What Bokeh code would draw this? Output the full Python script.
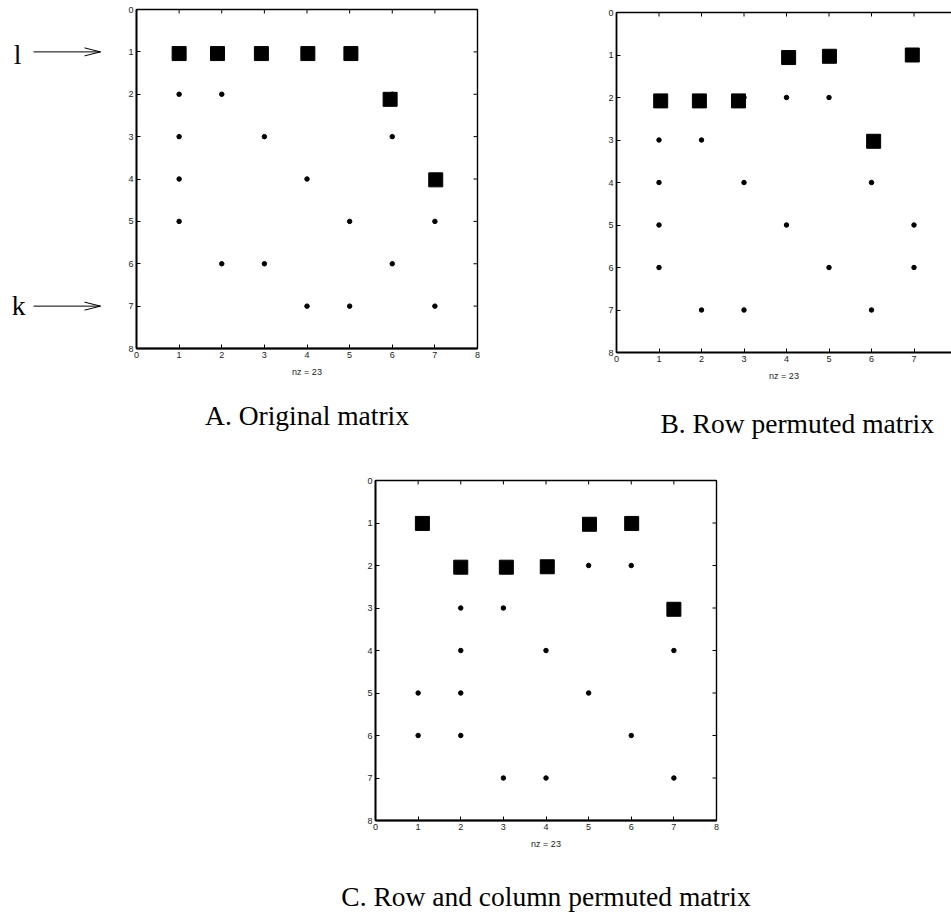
from bokeh.plotting import figure
from bokeh.models import Range1d, LinearAxis, FixedTicker
from bokeh.core.properties import value
from bokeh.layouts import column, row
from bokeh.embed import file_html
from bokeh.resources import INLINE

# ---------------- data ----------------
tick_vals = [0, 1, 2, 3, 4, 5, 6, 7, 8]
tick_text = ["0", "1", "2", "3", "4", "5", "6", "7", "8"]

# A. original matrix: nonzero entries (row, column)
a_rows = [1, 1, 1, 1, 1, 2, 2, 2, 3, 3, 3, 4, 4, 4, 5, 5, 5, 6, 6, 6, 7, 7, 7]
a_cols = [1, 2, 3, 4, 5, 1, 2, 6, 1, 3, 6, 1, 4, 7, 1, 5, 7, 2, 3, 6, 4, 5, 7]
# highlighted entries (big squares)
a_sq_x = [1.0, 1.9, 2.93, 4.02, 5.03, 5.95, 7.02]
a_sq_y = [1.04, 1.04, 1.04, 1.04, 1.04, 2.12, 4.02]

# B. row permuted matrix
b_rows = [1, 1, 1, 2, 2, 2, 2, 2, 3, 3, 3, 4, 4, 4, 5, 5, 5, 6, 6, 6, 7, 7, 7]
b_cols = [4, 5, 7, 1, 2, 3, 4, 5, 1, 2, 6, 1, 3, 6, 1, 4, 7, 1, 5, 7, 2, 3, 6]
b_sq_x = [4.05, 5.01, 6.96, 1.04, 1.95, 2.87, 6.05]
b_sq_y = [1.06, 1.03, 1.0, 2.08, 2.08, 2.08, 3.03]

# C. row and column permuted matrix
c_rows = [1, 1, 1, 2, 2, 2, 2, 2, 3, 3, 3, 4, 4, 4, 5, 5, 5, 6, 6, 6, 7, 7, 7]
c_cols = [1, 5, 6, 2, 3, 4, 5, 6, 2, 3, 7, 2, 4, 7, 1, 2, 5, 1, 2, 6, 3, 4, 7]
c_sq_x = [1.1, 5.02, 6.01, 2.0, 3.07, 4.03, 7.0]
c_sq_y = [1.01, 1.03, 1.01, 2.04, 2.04, 2.03, 3.03]

captions = ["A. Original matrix", "B. Row permuted matrix", "C. Row and column permuted matrix"]
row_marks = ["l", "k"]
row_mark_rows = [1, 7]

SANS = "Liberation Sans"
SERIF = "Liberation Serif"
CAP_SIZE = 27.5
overrides = {v: t for v, t in zip(tick_vals, tick_text)}
TICK_PX = 4


def label_axis(label_text=None):
    ax = LinearAxis(
        ticker=FixedTicker(ticks=tick_vals),
        major_tick_in=TICK_PX, major_tick_out=0,
        minor_tick_in=0, minor_tick_out=0,
        major_tick_line_color="black", major_tick_line_width=1,
        axis_line_color="black", axis_line_width=1.8,
        major_label_overrides=overrides,
        major_label_text_font=SANS,
        major_label_text_font_size="9px",
        major_label_text_color="#222222",
        major_label_standoff=3,
    )
    if label_text is not None:
        ax.axis_label = label_text
        ax.axis_label_text_font = SANS
        ax.axis_label_text_font_size = "9px"
        ax.axis_label_text_font_style = "normal"
        ax.axis_label_text_color = "#222222"
        ax.axis_label_standoff = 6
    return ax


def line_axis():
    return LinearAxis(ticker=FixedTicker(ticks=[]), axis_line_color="black",
                      axis_line_width=1.4, major_tick_in=0, major_tick_out=0,
                      minor_tick_in=0, minor_tick_out=0,
                      major_label_standoff=0, axis_label_standoff=0)


def panel(mbl, mbr, mbt, mbb, frame_w, frame_h, xend, rows, cols, sqx, sqy, right=True):
    p = figure(width=mbl + frame_w + mbr, height=mbt + frame_h + mbb,
               x_range=Range1d(0, xend), y_range=Range1d(8, 0),
               output_backend="svg", toolbar_location=None,
               x_axis_location=None, y_axis_location=None,
               min_border_left=mbl, min_border_right=mbr,
               min_border_top=mbt, min_border_bottom=mbb,
               background_fill_color="white", border_fill_color="white")
    p.grid.visible = False
    if right:
        p.outline_line_color = "black"
        p.outline_line_width = 1.4
    else:
        p.outline_line_color = None
        p.add_layout(line_axis(), "above")
    p.add_layout(label_axis(), "left")
    p.add_layout(label_axis(f"nz = {len(rows)}"), "below")
    # inward tick marks on top (and right) edges
    ux = frame_w / xend
    uy = frame_h / 8
    top_t = [t for t in tick_vals if t <= xend]
    p.segment(x0=top_t, y0=[0] * len(top_t), x1=top_t, y1=[TICK_PX / uy] * len(top_t),
              line_color="black", line_width=1)
    if right:
        p.segment(x0=[8] * len(tick_vals), y0=tick_vals,
                  x1=[8 - TICK_PX / ux] * len(tick_vals), y1=tick_vals,
                  line_color="black", line_width=1)
    p.scatter(x=cols, y=rows, size=4.5, marker="circle", color="black")
    p.scatter(x=sqx, y=sqy, size=14, marker="square", color="black")
    return p


def caption_strip(width, y_top, y_bottom, xs, mids, texts, aligns):
    s = figure(width=width, height=y_bottom - y_top,
               x_range=Range1d(0, width), y_range=Range1d(y_bottom, y_top),
               output_backend="svg", toolbar_location=None,
               x_axis_location=None, y_axis_location=None,
               min_border_left=0, min_border_right=0, min_border_top=0, min_border_bottom=0,
               outline_line_color=None)
    s.grid.visible = False
    for x, y, t, a in zip(xs, mids, texts, aligns):
        s.text(x=[x], y=[y], text=[t], text_font=value(SERIF),
               text_font_size=f"{CAP_SIZE}px", text_align=a, text_baseline="middle",
               text_color="black")
    return s


MID = 0.3375 * CAP_SIZE  # distance from baseline to middle of the em box

# ---- geometry (pixels) ----
A_L, A_T, A_W, A_H = 136, 9, 341, 339
B_L, B_T, B_W, B_H = 616, 12, 335, 340
C_L, C_T, C_W, C_H = 375, 480, 341, 340
PL_W = 118
BOT = 40
ROW1_H = B_T + B_H + BOT          # 392
CAP1_B = 440

# left strip with the "l" and "k" row markers (x in pixels, y in rows of A)
pl = figure(width=PL_W, height=A_T + A_H + BOT, x_range=Range1d(0, PL_W), y_range=Range1d(8, 0),
            output_backend="svg", toolbar_location=None,
            x_axis_location=None, y_axis_location=None,
            min_border_left=0, min_border_right=0, min_border_top=A_T, min_border_bottom=BOT,
            outline_line_color=None)
pl.grid.visible = False
uy_a = A_H / 8
mark_x = [17, 18]
mark_mid = [r + d / uy_a for r, d in zip(row_mark_rows, [2.5, -0.5])]
pl.text(x=mark_x, y=mark_mid, text=row_marks, text_font=value(SERIF),
        text_font_size=f"{CAP_SIZE}px", text_align="center", text_baseline="middle",
        text_color="black")
ax0, ax1, head_len, head_half = 33, 100, 16, 4
pl.segment(x0=[ax0] * 2, y0=row_mark_rows, x1=[ax1] * 2, y1=row_mark_rows,
           line_color="black", line_width=1)
pl.segment(x0=[ax1 - head_len] * 2, y0=[r - head_half / uy_a for r in row_mark_rows],
           x1=[ax1] * 2, y1=row_mark_rows, line_color="black", line_width=1)
pl.segment(x0=[ax1 - head_len] * 2, y0=[r + head_half / uy_a for r in row_mark_rows],
           x1=[ax1] * 2, y1=row_mark_rows, line_color="black", line_width=1)

pa = panel(A_L - PL_W, 10, A_T, BOT, A_W, A_H, 8, a_rows, a_cols, a_sq_x, a_sq_y)
a_right = A_L + A_W + 10
pb = panel(B_L - a_right, 0, B_T, BOT, B_W, B_H, B_W / 42.5, b_rows, b_cols,
           b_sq_x, b_sq_y, right=False)
cap1 = caption_strip(951, ROW1_H, CAP1_B,
                     [A_L + A_W / 2, 660], [424 - MID, 432 - MID],
                     captions[:2], ["center", "left"])
pc = panel(C_L, 60, C_T - CAP1_B, BOT, C_W, C_H, 8, c_rows, c_cols, c_sq_x, c_sq_y)
c_bottom = C_T + C_H + BOT
cap2 = caption_strip(951, c_bottom, 915, [C_L + C_W / 2], [905 - MID],
                     captions[2:], ["center"])

# each plot sits in its own container so that Bokeh does not align their frames
top = row(row(pl, pa, spacing=0), column(pb, spacing=0), spacing=0)
layout = column(top, row(cap1), row(pc), row(cap2), spacing=0)
open("out.html", "w").write(file_html(layout, INLINE))
